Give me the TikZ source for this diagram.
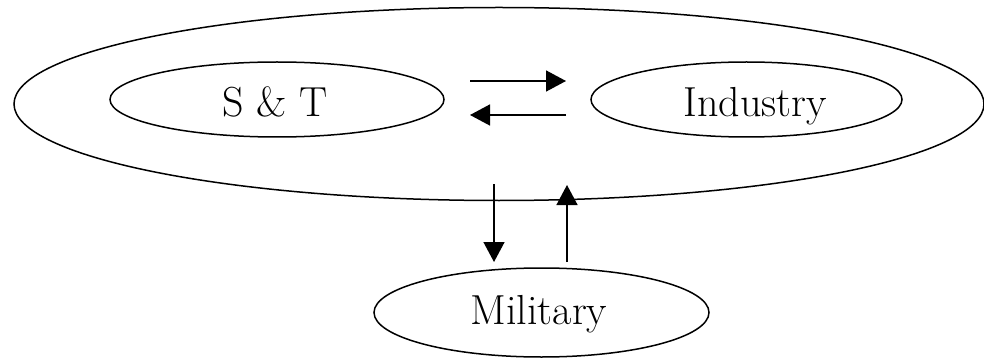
\documentclass[tikz,border=0pt]{standalone}
\usetikzlibrary{shapes.geometric,arrows.meta}
\begin{document}
\begin{tikzpicture}[x=1pt,y=-1pt,
  oval/.style={draw,ellipse,line width=1.5pt,inner sep=0pt},
  lbl/.style={anchor=base,inner sep=0pt,font=\fontsize{42}{50}\selectfont},
  flow/.style={line width=1.5pt,-{Triangle[length=20pt,width=21pt]}}]
\useasboundingbox (0,0) rectangle (984,358);
\node[oval,minimum width=970pt,minimum height=193pt] (outer) at (499,104) {};
\node[oval,minimum width=334pt,minimum height=75pt] (st) at (277,99.5) {};
\node[oval,minimum width=311pt,minimum height=75pt] (ind) at (746.5,99.5) {};
\node[oval,minimum width=335pt,minimum height=89pt] (mil) at (541.5,312.5) {};
\node[lbl] (stt) at (275,117) {S \& T};
\node[lbl] (indt) at (755,117) {Industry};
\node[lbl] (milt) at (539,324) {Military};
\coordinate (a1) at (470,81);
\coordinate (a2) at (566,81);
\coordinate (b1) at (566,115);
\coordinate (b2) at (470,115);
\coordinate (c1) at (494,184);
\coordinate (c2) at (494,262);
\coordinate (d1) at (567,262);
\coordinate (d2) at (567,185);
\draw[flow] (a1) -- (a2);
\draw[flow] (b1) -- (b2);
\draw[flow] (c1) -- (c2);
\draw[flow] (d1) -- (d2);
\end{tikzpicture}
\end{document}
